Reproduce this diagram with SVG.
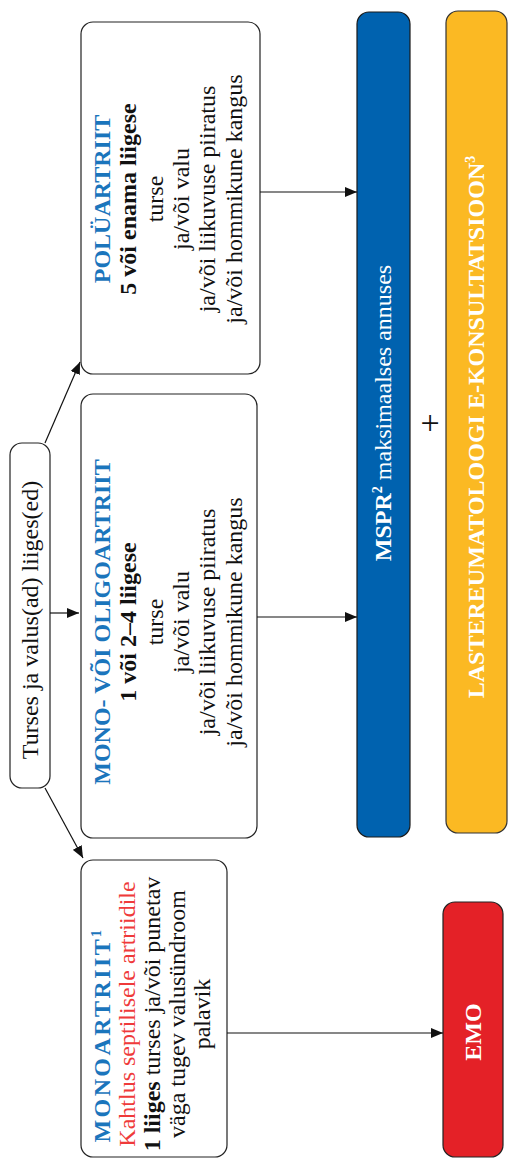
<svg xmlns="http://www.w3.org/2000/svg" width="508" height="1160" viewBox="0 0 508 1160">
<style>
.box{fill:#fff;stroke:#222;stroke-width:1.2}
.t{font-family:"Liberation Serif","Times New Roman",serif;font-size:24px;text-anchor:middle;fill:#111}
.b{font-weight:bold}
.blue{fill:#1b75bc}
.red{fill:#ef3a3a}
.w{fill:#fff}
.sup{font-size:14px}
.conn line{stroke:#111;stroke-width:1.2;fill:none}
</style>
<defs>
<marker id="ah" viewBox="0 0 12 10" refX="12" refY="5" markerWidth="12" markerHeight="10" markerUnits="userSpaceOnUse" orient="auto">
<path d="M0,0 L12,5 L0,10 Z" fill="#111"/>
</marker>
</defs>

<g id="root">
<rect class="box" x="10" y="443" width="40" height="345" rx="12"/>
<text class="t" transform="translate(38,620) rotate(-90)" x="0" y="0">Turses ja valus(ad) liiges(ed)</text>
</g>

<g id="polyartriit">
<rect class="box" x="81" y="22" width="179" height="352" rx="12"/>
<g transform="translate(0,199) rotate(-90)">
<text class="t b blue" x="0" y="110">POLÜARTRIIT</text>
<text class="t b" x="0" y="136">5 või enama liigese</text>
<text class="t" x="0" y="163">turse</text>
<text class="t" x="0" y="189">ja/või valu</text>
<text class="t" x="0" y="215">ja/või liikuvuse piiratus</text>
<text class="t" x="0" y="242">ja/või hommikune kangus</text>
</g>
</g>

<g id="oligoartriit">
<rect class="box" x="81" y="394" width="176" height="444" rx="12"/>
<g transform="translate(0,622) rotate(-90)">
<text class="t b blue" x="0" y="110">MONO- VÕI OLIGOARTRIIT</text>
<text class="t b" x="0" y="136">1 või 2–4 liigese</text>
<text class="t" x="0" y="163">turse</text>
<text class="t" x="0" y="189">ja/või valu</text>
<text class="t" x="0" y="215">ja/või liikuvuse piiratus</text>
<text class="t" x="0" y="242">ja/või hommikune kangus</text>
</g>
</g>

<g id="monoartriit">
<rect class="box" x="81" y="860" width="146" height="297" rx="12"/>
<g transform="translate(0,1014) rotate(-90)">
<text class="t b blue" x="-21" y="110" letter-spacing="2.4">MONOARTRIIT<tspan class="sup" dy="-9">1</tspan></text>
<text class="t red" x="0" y="135">Kahtlus septilisele artriidile</text>
<text class="t" x="0" y="160"><tspan class="b">1 liiges</tspan> turses ja/või punetav</text>
<text class="t" x="0" y="185">väga tugev valusündroom</text>
<text class="t" x="0" y="210">palavik</text>
</g>
</g>

<g id="mspr">
<rect x="357" y="12" width="53" height="825" rx="12" fill="#0062af" stroke="#1a1a1a" stroke-width="1.2"/>
<text class="t w" transform="translate(391,413) rotate(-90)"><tspan class="b">MSPR</tspan><tspan class="b sup" dy="-9">2</tspan><tspan dy="9"> maksimaalses annuses</tspan></text>
</g>

<g id="konsultatsioon">
<rect x="446" y="11" width="61" height="822" rx="12" fill="#fbb923" stroke="#333" stroke-width="1.2"/>
<text class="t b w" transform="translate(484,427) rotate(-90)">LASTEREUMATOLOOGI E-KONSULTATSIOON<tspan class="sup" dy="-9">3</tspan></text>
</g>

<g id="emo">
<rect x="443" y="902" width="60" height="255" rx="12" fill="#e42127" stroke="#222" stroke-width="1.2"/>
<text class="t b w" transform="translate(481,1032) rotate(-90)">EMO</text>
</g>

<g id="plus">
<text class="t" x="430" y="434" style="font-size:34px">+</text>
</g>

<g class="conn" id="connectors">
<line x1="50" y1="613" x2="79" y2="613" marker-end="url(#ah)"/>
<line x1="45" y1="443" x2="80" y2="362" marker-end="url(#ah)"/>
<line x1="45" y1="788" x2="83" y2="858" marker-end="url(#ah)"/>
<line x1="260" y1="192" x2="357" y2="192" marker-end="url(#ah)"/>
<line x1="257" y1="617" x2="357" y2="617" marker-end="url(#ah)"/>
<line x1="227" y1="1033" x2="443" y2="1033" marker-end="url(#ah)"/>
</g>
</svg>
